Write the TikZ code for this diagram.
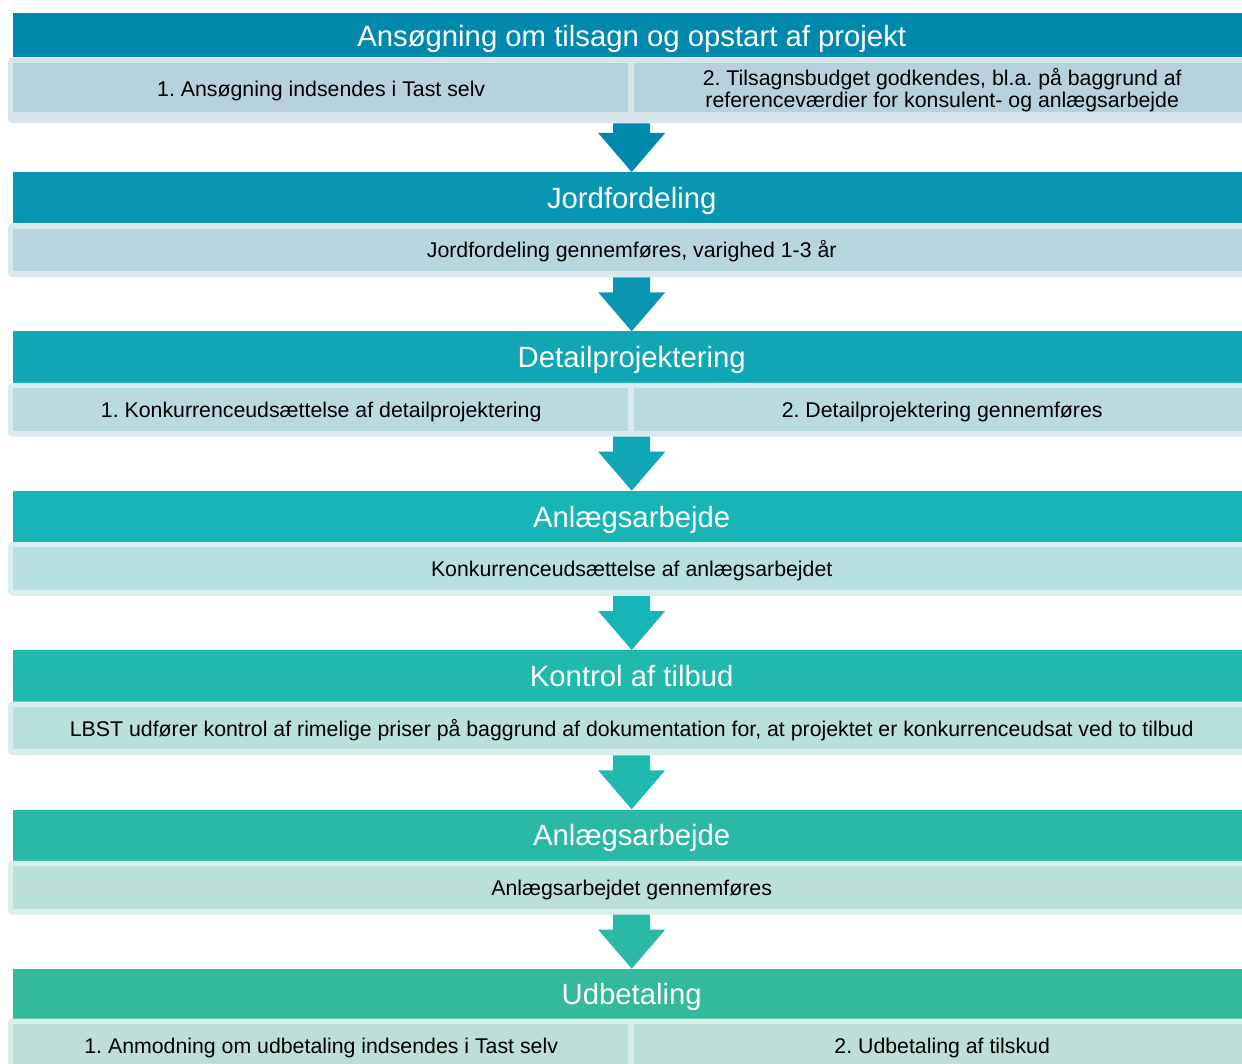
\documentclass[tikz,border=0pt]{standalone}
\usepackage{fontspec}
\setmainfont{Liberation Sans}
\usetikzlibrary{calc}
\frenchspacing
\definecolor{hA}{HTML}{0088AD}
\definecolor{hB}{HTML}{0896B1}
\definecolor{hC}{HTML}{10A6B4}
\definecolor{hD}{HTML}{18B5B6}
\definecolor{hE}{HTML}{20B9AE}
\definecolor{hF}{HTML}{2AB9A5}
\definecolor{hG}{HTML}{33B99B}
\definecolor{sA}{HTML}{B8D2DD}
\definecolor{sB}{HTML}{B8D6DE}
\definecolor{sC}{HTML}{B9DBE0}
\definecolor{sD}{HTML}{B9E0E0}
\definecolor{sE}{HTML}{BAE0DC}
\definecolor{sF}{HTML}{BBE0DA}
\definecolor{sG}{HTML}{BCE0D7}
\newcommand\flowarrow[3]{%
  \fill[#3] ($(#1.south)+(-18.5,0)$) -- ($(#1.south)+(18.5,0)$) -- ($(#2.north)+(18.5,-39)$) -- ($(#2.north)+(33.5,-39)$) -- (#2.north) -- ($(#2.north)+(-33.5,-39)$) -- ($(#2.north)+(-18.5,-39)$) -- cycle;}
\newcommand\fullinner[3]{% node, color, bottom inset
  \fill[#2] ($(#1.north west)+(5,5.3)$) rectangle ($(#1.south east)+(-5,-#3)$);}
\newcommand\splitinner[3]{%
  \fill[#2] ($(#1.north west)+(5,5.3)$) rectangle ($(#1.south)+(-3.5,-#3)$);
  \fill[#2] ($(#1.north)+(2.5,5.3)$) rectangle ($(#1.south east)+(-5,-#3)$);}
\begin{document}
\begin{tikzpicture}[x=1pt,y=-1pt,
  hdr/.style={fill=#1,draw=none,anchor=north west,minimum width=1237pt,inner sep=0pt},
  htxt/.style={inner sep=0pt,text=white,font=\fontsize{29.3}{33}\selectfont,text height=21pt,text depth=0pt},
  subouter/.style={fill=#1!55!white,draw=none,anchor=north west,minimum width=1247pt,inner sep=0pt,rounded corners=4pt},
  lbl/.style={inner sep=0pt,text=black,font=\fontsize{21.3}{22}\selectfont,align=center},
  lbl1/.style={lbl,text height=15.3pt,text depth=0pt}]
\useasboundingbox (0,0) rectangle (1242,1064);
\clip (0,0) rectangle (1242,1064);
\fill[white] (0,0) rectangle (1242,1064);
% stage 1
\node[hdr=hA,minimum height=44.8pt] (h1) at (13,12.5) {};
\node[htxt] (ht1) at ($(h1.center)+(0,1)$) {Ansøgning om tilsagn og opstart af projekt};
\node[subouter=sA,minimum height=65.7pt] (sb1) at (8,57.3) {};
\splitinner{sb1}{sA}{11}
\node[lbl1] (t1a) at ($(sb1.center)+(-310.5,-1)$) {1. Ansøgning indsendes i Tast selv};
\node[lbl] (t1b) at ($(sb1.center)+(310.5,0)$) {2. Tilsagnsbudget godkendes, bl.a. på baggrund af\\referenceværdier for konsulent- og anlægsarbejde};
% stage 2
\node[hdr=hB,minimum height=51.3pt] (h2) at (13,172) {};
\node[htxt] (ht2) at (h2.center) {Jordfordeling};
\node[subouter=sB,minimum height=53.7pt] (sb2) at (8,223.3) {};
\fullinner{sb2}{sB}{6}
\node[lbl1] (t2) at (sb2.center) {Jordfordeling gennemføres, varighed 1-3 år};
% stage 3
\node[hdr=hC,minimum height=51.3pt] (h3) at (13,331.3) {};
\node[htxt] (ht3) at (h3.center) {Detailprojektering};
\node[subouter=sC,minimum height=53.7pt] (sb3) at (8,382.6) {};
\splitinner{sb3}{sC}{6}
\node[lbl1] (t3a) at ($(sb3.center)+(-310.5,0)$) {1. Konkurrenceudsættelse af detailprojektering};
\node[lbl1] (t3b) at ($(sb3.center)+(310.5,0)$) {2. Detailprojektering gennemføres};
% stage 4
\node[hdr=hD,minimum height=51.3pt] (h4) at (13,490.7) {};
\node[htxt] (ht4) at (h4.center) {Anlægsarbejde};
\node[subouter=sD,minimum height=53.7pt] (sb4) at (8,542) {};
\fullinner{sb4}{sD}{6}
\node[lbl1] (t4) at (sb4.center) {Konkurrenceudsættelse af anlægsarbejdet};
% stage 5
\node[hdr=hE,minimum height=51.3pt] (h5) at (13,650) {};
\node[htxt] (ht5) at (h5.center) {Kontrol af tilbud};
\node[subouter=sE,minimum height=53.7pt] (sb5) at (8,701.3) {};
\fullinner{sb5}{sE}{6}
\node[lbl1] (t5) at (sb5.center) {LBST udfører kontrol af rimelige priser på baggrund af dokumentation for, at projektet er konkurrenceudsat ved to tilbud};
% stage 6
\node[hdr=hF,minimum height=51.3pt] (h6) at (13,809.3) {};
\node[htxt] (ht6) at (h6.center) {Anlægsarbejde};
\node[subouter=sF,minimum height=53.7pt] (sb6) at (8,860.6) {};
\fullinner{sb6}{sF}{6}
\node[lbl1] (t6) at (sb6.center) {Anlægsarbejdet gennemføres};
% stage 7
\node[hdr=hG,minimum height=49.6pt] (h7) at (13,968.7) {};
\node[htxt] (ht7) at (h7.center) {Udbetaling};
\node[subouter=sG,minimum height=53.7pt] (sb7) at (8,1018.3) {};
\splitinner{sb7}{sG}{6}
\node[lbl1] (t7a) at ($(sb7.center)+(-310.5,0)$) {1. Anmodning om udbetaling indsendes i Tast selv};
\node[lbl1] (t7b) at ($(sb7.center)+(310.5,0)$) {2. Udbetaling af tilskud};
% arrows
\flowarrow{sb1}{h2}{hA}
\flowarrow{sb2}{h3}{hB}
\flowarrow{sb3}{h4}{hC}
\flowarrow{sb4}{h5}{hD}
\flowarrow{sb5}{h6}{hE}
\flowarrow{sb6}{h7}{hF}
\end{tikzpicture}
\end{document}
